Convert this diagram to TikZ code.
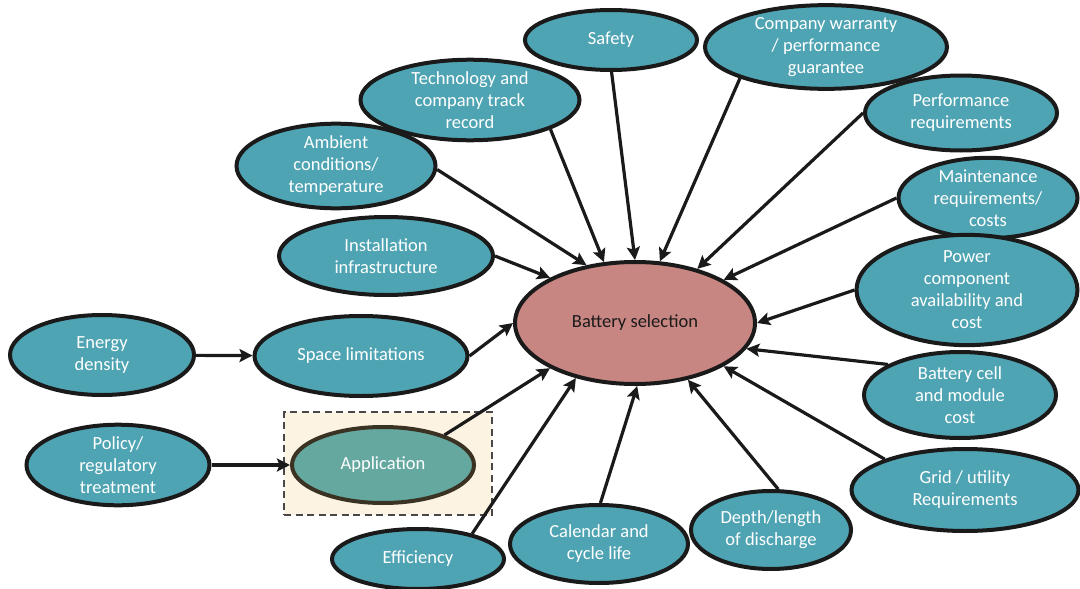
\documentclass[tikz,border=0pt]{standalone}
\usepackage{fontspec}
\setmainfont{Carlito}
\usetikzlibrary{shapes.geometric,arrows.meta}
\definecolor{tealbub}{HTML}{4FA4B3}
\definecolor{appfill}{HTML}{64A8A0}
\definecolor{appline}{HTML}{3A3222}
\definecolor{bsfill}{HTML}{C88683}
\definecolor{boxfill}{HTML}{FDF3E3}
\definecolor{ink}{HTML}{1A1A1A}
\begin{document}
\begin{tikzpicture}[x=1pt,y=-1pt,
  bub/.style={ellipse, draw=ink, line width=4pt, fill=tealbub, text=white, align=center, inner sep=0pt,
    font=\fontsize{18.5}{22}\selectfont},
  arr/.style={draw=ink, line width=3.2pt, -{Stealth[length=13pt,width=13pt,inset=2.5pt]}},
  dashbox/.style={draw=ink!80, line width=1.6pt, dash pattern=on 7pt off 4.5pt, fill=boxfill, inner sep=0pt}
]
\useasboundingbox (0,0) rectangle (1080,589);

% dashed highlight box behind Application
\node[dashbox, minimum width=208pt, minimum height=103pt] (appbox) at (388,463.5) {};

% nodes
\node[bub, minimum width=172pt, minimum height=60pt] (safety) at (611,40) {Safety};
\node[bub, minimum width=242pt, minimum height=76pt] (company) at (826,47) {Company warranty\\/ performance\\guarantee};
\node[bub, minimum width=219pt, minimum height=72pt] (tech) at (470,100) {Technology and\\company track\\record};
\node[bub, minimum width=192pt, minimum height=75pt] (perf) at (961,113) {Performance\\requirements};
\node[bub, minimum width=199pt, minimum height=71pt] (amb) at (336,166) {Ambient\\conditions/\\temperature};
\node[bub, minimum width=179pt, minimum height=76pt] (maint) at (988,198) {Maintenance\\requirements/\\costs};
\node[bub, minimum width=214pt, minimum height=78pt] (inst) at (386,256) {Installation\\infrastructure};
\node[bub, minimum width=221pt, minimum height=91pt] (power) at (967,290) {Power\\component\\availability and\\cost};
\node[bub, minimum width=184pt, minimum height=80pt] (energy) at (102,355) {Energy\\density};
\node[bub, minimum width=213pt, minimum height=80pt] (space) at (361,356) {Space limitations};
\node[bub, fill=bsfill, text=ink, minimum width=240pt, minimum height=122pt] (bs) at (635,323) {Battery selection};
\node[bub, minimum width=192pt, minimum height=86pt] (cell) at (960,395) {Battery cell\\and module\\cost};
\node[bub, minimum width=183pt, minimum height=80pt] (policy) at (118,465) {Policy/\\regulatory\\treatment};
\node[bub, fill=appfill, draw=appline, minimum width=182pt, minimum height=76pt] (app) at (383,465) {Application};
\node[bub, minimum width=227pt, minimum height=82pt] (grid) at (965,490) {Grid / utility\\Requirements};
\node[bub, minimum width=172pt, minimum height=60pt] (eff) at (418,559) {Efficiency};
\node[bub, minimum width=178pt, minimum height=78pt] (cal) at (599,544) {Calendar and\\cycle life};
\node[bub, minimum width=160pt, minimum height=78pt] (depth) at (771,530) {Depth/length\\of discharge};

% connectors
\draw[arr] (energy) -- (space);
\draw[arr] (policy) -- (app);
\draw[arr] (amb.-2) -- (bs.130.8);
\draw[arr] (tech.-20) -- (bs.117);
\draw[arr] (safety.-89) -- (bs.90);
\draw[arr] (company.-160.6) -- (bs.68);
\draw[arr] (perf.180) -- (bs.41);
\draw[arr] (maint.180) -- (bs.26.6);
\draw[arr] (power.180) -- (bs.0);
\draw[arr] (cell.157.4) -- (bs.-13.4);
\draw[arr] (grid.159.2) -- (bs.-26.6);
\draw[arr] (depth.80.8) -- (bs.-47.6);
\draw[arr] (cal.88.6) -- (bs.-88);
\draw[arr] (eff.25.8) -- (bs.-137.8);
\draw[arr] (app.26.2) -- (bs.-152.6);
\draw[arr] (space.0.5) -- (bs.180);
\draw[arr] (inst.0) -- (bs.152.9);
\end{tikzpicture}
\end{document}
